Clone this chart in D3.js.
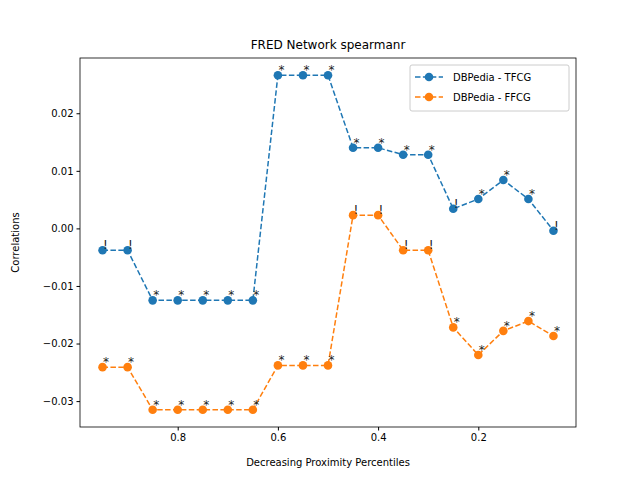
<!DOCTYPE html>
<html><head><meta charset="utf-8">
<script src="https://cdn.jsdelivr.net/npm/d3@7"></script>
<style>body{margin:0;background:#fff}text{font-family:"DejaVu Sans",sans-serif}</style>
</head><body><svg id="c" width="640" height="480"></svg>
<script>
const percentiles=[0.95,0.9,0.85,0.8,0.75,0.7,0.65,0.6,0.55,0.5,0.45,0.4,0.35,0.3,0.25,0.2,0.15,0.1,0.05];
const tfcg=[-0.0038,-0.0038,-0.0125,-0.0125,-0.0125,-0.0125,-0.0125,0.0266,0.0266,0.0266,0.0140,0.0140,0.0128,0.0128,0.0034,0.0051,0.0084,0.0051,-0.0004];
const tfcgSig=["!","!","*","*","*","*","*","*","*","*","*","*","*","*","!","*","*","*","!"];
const ffcg=[-0.0241,-0.0241,-0.0315,-0.0315,-0.0315,-0.0315,-0.0315,-0.0238,-0.0238,-0.0238,0.0023,0.0023,-0.0038,-0.0038,-0.0172,-0.0220,-0.0178,-0.0161,-0.0187];
const ffcgSig=["*","*","*","*","*","*","*","*","*","*","!","!","!","!","*","*","*","*","*"];
const xTicks=[0.8,0.6,0.4,0.2];
const yTicks=[-0.03,-0.02,-0.01,0,0.01,0.02];
const series=[{name:"DBPedia - TFCG",v:tfcg,s:tfcgSig,c:"#1f77b4"},{name:"DBPedia - FFCG",v:ffcg,s:ffcgSig,c:"#ff7f0e"}];
const L=80,R=576,T=58,B=427;
const svg=d3.select("#c");
const x=d3.scaleLinear().domain([0.995,0.005]).range([L,R]);
const y=d3.scaleLinear().domain([-0.0345,0.0296]).range([B,T]);
svg.append("g").attr("transform",`translate(0,${B})`).call(d3.axisBottom(x).tickValues(xTicks).tickFormat(d3.format(".1f")).tickSizeOuter(0).tickSize(3.5)).call(g=>{g.select(".domain").remove();g.selectAll("text").attr("font-size",10).attr("fill","#000");});
svg.append("g").attr("transform",`translate(${L},0)`).call(d3.axisLeft(y).tickValues(yTicks).tickFormat(d3.format(".2f")).tickSizeOuter(0).tickSize(3.5)).call(g=>{g.select(".domain").remove();g.selectAll("text").attr("font-size",10).attr("fill","#000");});
svg.append("rect").attr("x",L).attr("y",T).attr("width",R-L).attr("height",B-T).attr("fill","none").attr("stroke","#000").attr("stroke-width",0.8);
const line=d3.line().x((d,i)=>x(percentiles[i])).y(d=>y(d));
series.forEach(s=>{
  svg.append("path").datum(s.v).attr("d",line).attr("fill","none").attr("stroke",s.c).attr("stroke-width",1.5).attr("stroke-dasharray","5.5,2.4");
  svg.selectAll(null).data(s.v).enter().append("circle").attr("cx",(d,i)=>x(percentiles[i])).attr("cy",d=>y(d)).attr("r",4.3).attr("fill",s.c);
  svg.selectAll(null).data(s.v).enter().append("text").attr("x",(d,i)=>x(percentiles[i])+0.5).attr("y",d=>y(d)).attr("dy",s=>-1).attr("font-size",12).attr("fill","#222").text((d,i)=>s.s[i]);
});
svg.append("text").attr("x",(L+R)/2).attr("y",49).attr("text-anchor","middle").attr("font-size",12).text("FRED Network spearmanr");
svg.append("text").attr("x",(L+R)/2).attr("y",466).attr("text-anchor","middle").attr("font-size",10).text("Decreasing Proximity Percentiles");
svg.append("text").attr("transform",`translate(19,${(T+B)/2}) rotate(-90)`).attr("text-anchor","middle").attr("font-size",10).text("Correlations");
const lg=svg.append("g");
lg.append("rect").attr("x",410).attr("y",65).attr("width",159).attr("height",46).attr("rx",2).attr("fill","#fff").attr("stroke","#ccc");
series.forEach((s,i)=>{
  const yy=77+i*20;
  lg.append("line").attr("x1",415).attr("x2",443).attr("y1",yy).attr("y2",yy).attr("stroke",s.c).attr("stroke-width",1.5).attr("stroke-dasharray","5.5,2.4");
  lg.append("circle").attr("cx",429).attr("cy",yy).attr("r",4.3).attr("fill",s.c);
  lg.append("text").attr("x",453).attr("y",yy+3.5).attr("font-size",10).text(s.name);
});
</script></body></html>
